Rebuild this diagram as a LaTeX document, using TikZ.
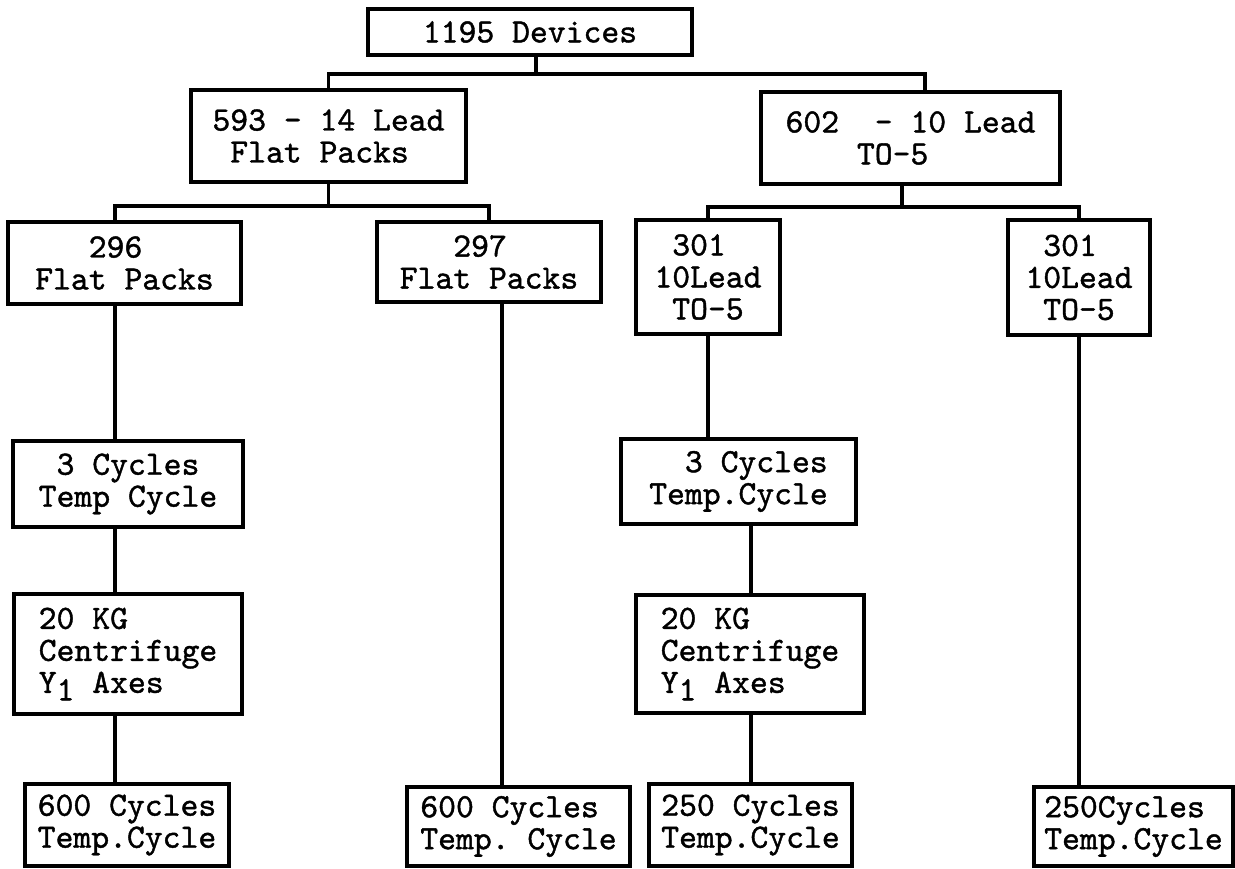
\documentclass[tikz,border=0pt]{standalone}
\usepackage{fontspec}
\newfontfamily\tw{lmmono10-regular.otf}[FakeBold=1.2]
\begin{document}
\begin{tikzpicture}[x=1pt,y=-1pt,
  box/.style={draw, line width=3.8pt, inner sep=0pt, align=left,
    font=\tw\fontsize{34}{32}\selectfont},
  link/.style={line width=3.6pt}]
\fill[white] (0,0) rectangle (1235,868);
\useasboundingbox (0,0) rectangle (1235,868);

% level 0
\node[box, minimum width=324pt, minimum height=46pt] (top) at (530,32) {1195 Devices};
% level 1
\node[box, minimum width=275pt, minimum height=92pt] (fp593) at (328.5,136) {593 - 14 Lead\\~Flat Packs};
\node[box, minimum width=299pt, minimum height=92pt] (to602) at (910.5,138) {602~~- 10 Lead\\~~~~TO-5};
% level 2
\node[box, minimum width=233pt, minimum height=82pt] (fp296) at (124.5,263) {~~~296\\Flat Packs};
\node[box, minimum width=224pt, minimum height=80pt] (fp297) at (489,262) {~~~297\\Flat Packs};
\node[box, minimum width=144pt, minimum height=114pt] (to301a) at (708,277) {~301\\10Lead\\~TO-5};
\node[box, minimum width=142pt, minimum height=115pt] (to301b) at (1079,277.5) {~301\\10Lead\\~TO-5};
% level 3
\node[box, minimum width=230pt, minimum height=86pt] (tc3a) at (128,484) {~3 Cycles\\Temp Cycle};
\node[box, minimum width=235pt, minimum height=85pt] (tc3b) at (738.5,481.5) {~~3 Cycles\\Temp.Cycle};
% level 4
\node[box, minimum width=228pt, minimum height=120pt] (kg20a) at (128,654) {20 KG\\Centrifuge\\Y\raisebox{-0.22em}{1}~Axes};
\node[box, minimum width=228pt, minimum height=118pt] (kg20b) at (750,654) {20 KG\\Centrifuge\\Y\raisebox{-0.22em}{1}~Axes};
% level 5
\node[box, minimum width=204pt, minimum height=82pt] (cyc600a) at (127,825) {600 Cycles\\Temp.Cycle};
\node[box, minimum width=223pt, minimum height=79pt] (cyc600b) at (518.5,826.5) {600 Cycles\\Temp.\ Cycle};
\node[box, minimum width=203pt, minimum height=82pt] (cyc250a) at (750.5,825) {250 Cycles\\Temp.Cycle};
\node[box, minimum width=199pt, minimum height=79pt] (cyc250b) at (1133.5,826.5) {250Cycles\\Temp.Cycle};

% line coordinates
\coordinate (la) at (115,0);
\coordinate (lb) at (502,0);
\coordinate (lc) at (751,0);

% tree connectors
\draw[link] ([xshift=6pt]top.south) -- ++(0,17) coordinate (j1);
\draw[link] (fp593.north) |- (j1) -| ([xshift=14.5pt]to602.north);
\draw[link] (fp593.south) -- ++(0,22) coordinate (j2);
\draw[link] ([xshift=-9.5pt]fp296.north) |- (j2) -| (fp297.north);
\draw[link] ([xshift=-8.5pt]to602.south) -- ++(0,21) coordinate (j3);
\draw[link] (to301a.north) |- (j3) -| (to301b.north);

% vertical chains
\draw[link] (fp296.south -| la) -- (tc3a.north -| la);
\draw[link] (tc3a.south -| la) -- (kg20a.north -| la);
\draw[link] (kg20a.south -| la) -- (cyc600a.north -| la);
\draw[link] (fp297.south -| lb) -- (cyc600b.north -| lb);
\draw[link] (to301a.south) -- (tc3b.north -| to301a.south);
\draw[link] (tc3b.south -| lc) -- (kg20b.north -| lc);
\draw[link] (kg20b.south -| lc) -- (cyc250a.north -| lc);
\draw[link] (to301b.south) -- (cyc250b.north -| to301b.south);
\end{tikzpicture}
\end{document}
